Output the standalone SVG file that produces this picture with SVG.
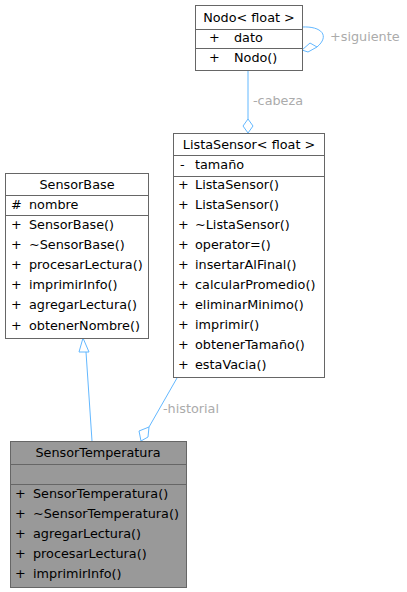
<svg xmlns="http://www.w3.org/2000/svg" width="407" height="592" viewBox="0 0 407 592">
<style>
.box{fill:#ffffff;stroke:#666666;stroke-width:1}
.grey{fill:#999999;stroke:#666666;stroke-width:1}
.sep{stroke:#666666;stroke-width:1}
text{font-family:"DejaVu Sans",sans-serif;font-size:12.8px;fill:#000000}
.t{text-anchor:middle}
.lbl{fill:#ababab}
.edge{fill:none;stroke:#63b8ff;stroke-width:1}
.dia{fill:#ffffff;stroke:#63b8ff;stroke-width:1}
</style>
<rect width="407" height="592" fill="#ffffff"/>
<g id="edges">
  <path class="edge" d="M248,70 L248,119"/>
  <polygon class="dia" points="248,119 253,126 248,133 243,126"/>
  <text class="lbl" x="253" y="105">-cabeza</text>
  <path class="edge" d="M302,27 C322,26 330,36 317,47"/>
  <polygon class="dia" points="302,50 310,43 317,47 308,52"/>
  <text class="lbl" x="330" y="41">+siguiente</text>
  <path class="edge" d="M92,441 L86,352"/>
  <polygon class="dia" points="83,338 79,352 89,352"/>
  <path class="edge" d="M177,378 L149,427"/>
  <polygon class="dia" points="149,427 148,437 141,441 139,431"/>
  <text class="lbl" x="163" y="413">-historial</text>
</g>
<g id="Nodo">
  <rect class="box" x="195.5" y="5.5" width="107" height="65"/>
  <line class="sep" x1="195.5" y1="29.5" x2="302.5" y2="29.5"/>
  <line class="sep" x1="195.5" y1="48.5" x2="302.5" y2="48.5"/>
  <text class="t" x="249" y="22">Nodo&lt; float &gt;</text>
  <text x="209" y="42">+</text><text x="234" y="42">dato</text>
  <text x="209" y="62">+</text><text x="234" y="62">Nodo()</text>
</g>
<g id="ListaSensor">
  <rect class="box" x="173.5" y="133.5" width="151" height="244"/>
  <line class="sep" x1="173.5" y1="155.5" x2="324.5" y2="155.5"/>
  <line class="sep" x1="173.5" y1="176.5" x2="324.5" y2="176.5"/>
  <text class="t" x="249" y="149">ListaSensor&lt; float &gt;</text>
  <text x="180" y="169">-</text><text x="195" y="169">tamaño</text>
  <text x="178" y="189">+</text><text x="195" y="189">ListaSensor()</text>
  <text x="178" y="209">+</text><text x="195" y="209">ListaSensor()</text>
  <text x="178" y="229">+</text><text x="195" y="229">~ListaSensor()</text>
  <text x="178" y="249">+</text><text x="195" y="249">operator=()</text>
  <text x="178" y="269">+</text><text x="195" y="269">insertarAlFinal()</text>
  <text x="178" y="289">+</text><text x="195" y="289">calcularPromedio()</text>
  <text x="178" y="309">+</text><text x="195" y="309">eliminarMinimo()</text>
  <text x="178" y="329">+</text><text x="195" y="329">imprimir()</text>
  <text x="178" y="349">+</text><text x="195" y="349">obtenerTamaño()</text>
  <text x="178" y="369">+</text><text x="195" y="369">estaVacia()</text>
</g>
<g id="SensorBase">
  <rect class="box" x="5.5" y="173.5" width="143" height="165"/>
  <line class="sep" x1="5.5" y1="195.5" x2="148.5" y2="195.5"/>
  <line class="sep" x1="5.5" y1="215.5" x2="148.5" y2="215.5"/>
  <text class="t" x="77" y="189">SensorBase</text>
  <text x="11" y="209">#</text><text x="29" y="209">nombre</text>
  <text x="11" y="229">+</text><text x="29" y="229">SensorBase()</text>
  <text x="11" y="249">+</text><text x="29" y="249">~SensorBase()</text>
  <text x="11" y="269">+</text><text x="29" y="269">procesarLectura()</text>
  <text x="11" y="289">+</text><text x="29" y="289">imprimirInfo()</text>
  <text x="11" y="309">+</text><text x="29" y="309">agregarLectura()</text>
  <text x="11" y="330">+</text><text x="29" y="330">obtenerNombre()</text>
</g>
<g id="SensorTemperatura">
  <rect class="grey" x="10.5" y="441.5" width="176" height="146"/>
  <line class="sep" x1="10.5" y1="464.5" x2="186.5" y2="464.5"/>
  <line class="sep" x1="10.5" y1="484.5" x2="186.5" y2="484.5"/>
  <text class="t" x="98" y="457">SensorTemperatura</text>
  <text x="15" y="498">+</text><text x="33" y="498">SensorTemperatura()</text>
  <text x="15" y="518">+</text><text x="33" y="518">~SensorTemperatura()</text>
  <text x="15" y="538">+</text><text x="33" y="538">agregarLectura()</text>
  <text x="15" y="558">+</text><text x="33" y="558">procesarLectura()</text>
  <text x="15" y="578">+</text><text x="33" y="578">imprimirInfo()</text>
</g>
</svg>
